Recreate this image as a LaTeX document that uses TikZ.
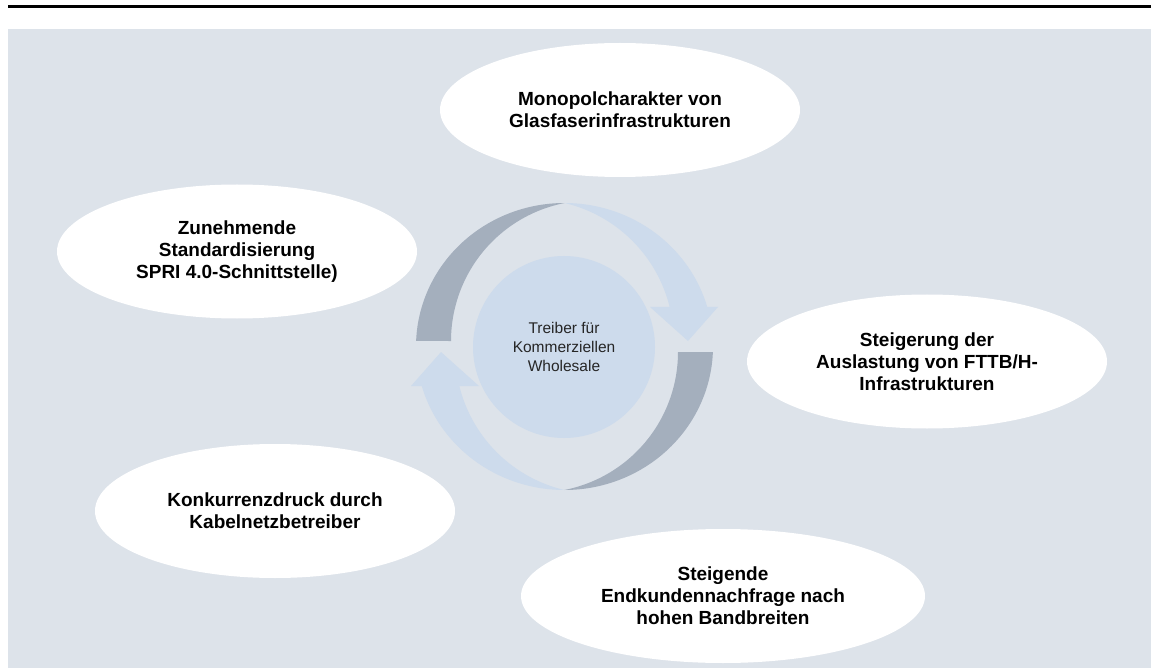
\documentclass[tikz,border=0pt]{standalone}
\usepackage{fontspec}
\setmainfont{Liberation Sans}
\usetikzlibrary{shapes.geometric}
\definecolor{bgc}{RGB}{221,227,234}
\definecolor{lightarr}{RGB}{205,219,236}
\definecolor{darkarr}{RGB}{164,175,189}
\definecolor{txt}{RGB}{38,38,38}
\begin{document}
\begin{tikzpicture}[x=1pt,y=-1pt,
  bubble/.style={ellipse, fill=white, minimum width=360pt, minimum height=134pt, inner sep=0pt, align=center, font=\fontsize{19}{22}\selectfont\bfseries, text=black},
  hub/.style={circle, fill=lightarr, minimum size=182pt, inner sep=0pt, align=center, font=\fontsize{15.5}{19}\selectfont, text=txt},
  darkpart/.style={fill=darkarr},
  lightpart/.style={fill=lightarr}]
\useasboundingbox (0,0) rectangle (1151,668);
\fill[bgc] (8,29) rectangle (1151,668);
\draw[line width=2.5pt] (8,6.5) -- (1151,6.5);
% circular arrows
\foreach \r in {0,180}{
\begin{scope}[rotate around={\r:(564.5,346.5)}]
\fill[darkpart] plot[domain=182.2:270,samples=60,variable=\t] ({564.5+148.5*cos(\t)},{346.5+143.5*sin(\t)})
  -- plot[domain=258.9:180,samples=60,variable=\t] ({591.6+140.6*cos(\t)},{341+140.6*sin(\t)}) -- cycle;
\fill[lightpart] plot[domain=270:344,samples=60,variable=\t] ({564.5+148.5*cos(\t)},{346.5+143.5*sin(\t)})
  -- (718,307) -- (688,341) -- (650,307) -- (669.7,307)
  -- plot[domain=346.13:283.25,samples=60,variable=\t] ({532+141.8*cos(\t)},{341+141.8*sin(\t)}) -- cycle;
\end{scope}}
\node[hub] (hub) at (564,347) {Treiber für\\Kommerziellen\\Wholesale};
\node[bubble] (top) at (620,110) {Monopolcharakter von\\Glasfaserinfrastrukturen};
\node[bubble] (left) at (237,251.5) {Zunehmende\\Standardisierung\\SPRI 4.0-Schnittstelle)};
\node[bubble] (right) at (927,361.5) {Steigerung der\\Auslastung von FTTB/H-\\Infrastrukturen};
\node[bubble] (botl) at (275,511) {Konkurrenzdruck durch\\Kabelnetzbetreiber};
\node[bubble, minimum width=404pt] (botr) at (723,596) {Steigende\\Endkundennachfrage nach\\hohen Bandbreiten};
\end{tikzpicture}
\end{document}
